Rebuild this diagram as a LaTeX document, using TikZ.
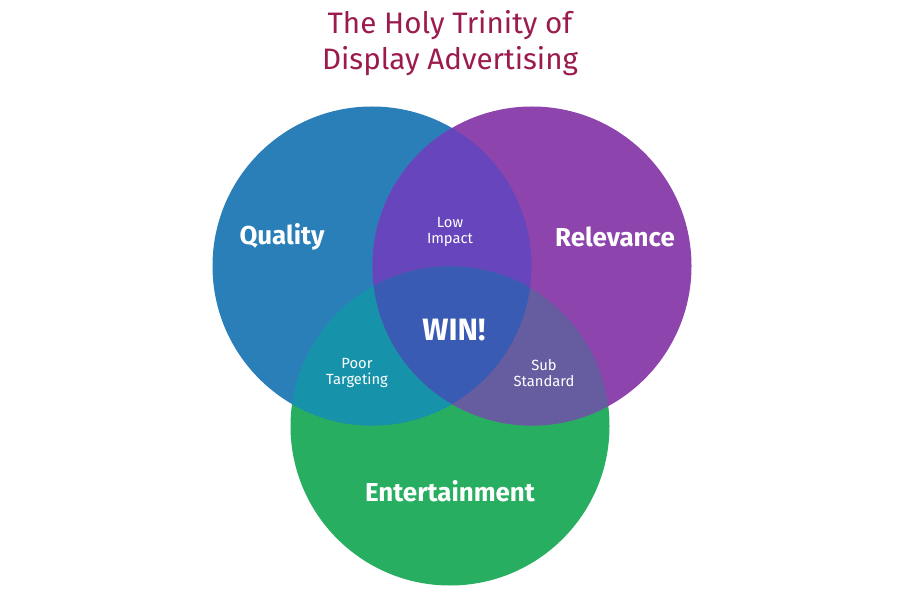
\documentclass[tikz,border=0pt]{standalone}
\usepackage{fontspec}
\setmainfont{Fira Sans}
\usepackage{xcolor}
\usetikzlibrary{positioning}
\definecolor{qualblue}{HTML}{2A7FB8}
\definecolor{relpurple}{HTML}{8E44AD}
\definecolor{entgreen}{HTML}{27AE60}
\definecolor{lowimp}{HTML}{6645BD}
\definecolor{poortg}{HTML}{1693AA}
\definecolor{substd}{HTML}{655DA0}
\definecolor{wincol}{HTML}{3A5BB3}
\definecolor{titlered}{HTML}{9B1B4F}
\tikzset{
  disc/.style={circle, minimum size=319bp, inner sep=0pt},
  biglabel/.style={text=white, font=\fontsize{26}{30}\selectfont\bfseries},
  smalllabel/.style={text=white, align=center, font=\fontsize{14.8}{16}\selectfont},
  heading/.style={text=titlered, align=center, font=\fontsize{29.7}{36}\selectfont},
}
\newcommand{\rad}{159.5}

\begin{document}
\begin{tikzpicture}[x=1bp, y=-1bp]
  \useasboundingbox (0,0) rectangle (900,600);
  \coordinate (qc) at (372,266);
  \coordinate (rc) at (532,266);
  \coordinate (ec) at (450,426);
  % the three sets
  \node[disc, fill=entgreen] (ent) at (ec) {};
  \node[disc, fill=qualblue] (qual) at (qc) {};
  \node[disc, fill=relpurple] (rel) at (rc) {};
  % overlaps
  \begin{scope}
    \clip (qc) circle (\rad);
    \fill[lowimp] (rc) circle (\rad);
    \fill[poortg] (ec) circle (\rad);
    \clip (rc) circle (\rad);
    \fill[wincol] (ec) circle (\rad);
  \end{scope}
  \begin{scope}
    \clip (rc) circle (\rad);
    \clip (ec) circle (\rad);
    \fill[substd] (ec) circle (\rad);
    \fill[wincol] (qc) circle (\rad);
  \end{scope}
  % labels
  \node[heading] (title) at (450,43) {The Holy Trinity of\\Display Advertising};
  \node[biglabel] (qlab) at (282,237) {Quality};
  \node[biglabel] (rlab) at (615,237) {Relevance};
  \node[biglabel] (elab) at (450,491) {Entertainment};
  \node[biglabel, font=\fontsize{31}{34}\selectfont\bfseries] (win) at (454,330) {WIN!};
  \node[smalllabel] (low) at (450,232) {Low\\Impact};
  \node[smalllabel] (poor) at (357,373) {Poor\\Targeting};
  \node[smalllabel] (sub) at (544,373) {Sub\\Standard};
\end{tikzpicture}
\end{document}
